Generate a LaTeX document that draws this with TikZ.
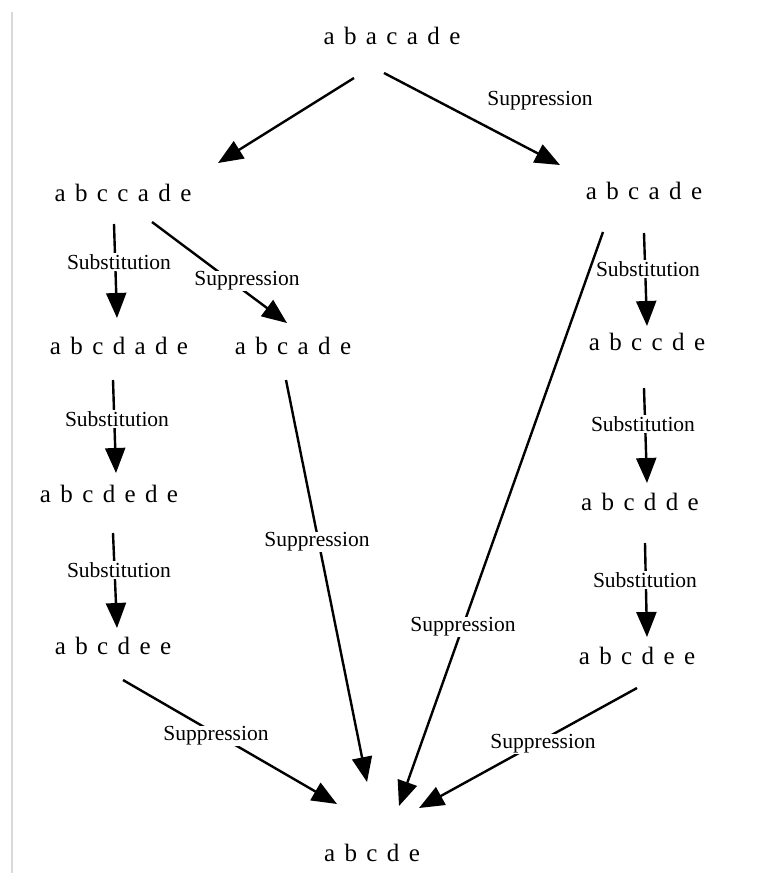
\documentclass[tikz,border=0pt]{standalone}
\usepackage{fontspec}
\setmainfont{Liberation Serif}
\newfontfamily\wordfont{Liberation Serif}[WordSpace=1.5]
\usetikzlibrary{arrows.meta}

\begin{document}
\begin{tikzpicture}[
    x=1pt, y=-1pt,
    word/.style={inner sep=0pt, text height=17pt, text depth=0pt, font=\wordfont\fontsize{25}{28}\selectfont},
    op/.style={fill=white, inner sep=1pt, font=\fontsize{21.5}{24}\selectfont},
    arrow/.style={-{Triangle[length=25pt,width=20pt]}, line width=2.4pt}
]
\useasboundingbox (0,0) rectangle (773,873);
\draw[black!15, line width=1.5pt] (12,12) -- (12,873);

% Words
\node[word] (top) at (392,36) {a b a c a d e};
\node[word] (L1) at (123,193) {a b c c a d e};
\node[word] (R1) at (644,191) {a b c a d e};
\node[word] (L2) at (119,346) {a b c d a d e};
\node[word] (M2) at (293,346) {a b c a d e};
\node[word] (R2) at (647,342) {a b c c d e};
\node[word] (L3) at (109,494) {a b c d e d e};
\node[word] (R3) at (640,502) {a b c d d e};
\node[word] (L4) at (113,646) {a b c d e e};
\node[word] (R4) at (637,656) {a b c d e e};
\node[word] (end) at (372,853) {a b c d e};

% Edges
\draw[arrow] ([shift={(-38,42)}]top.center) -- ([shift={(95,-30)}]L1.center);
\draw[arrow] ([shift={(-8,37)}]top.center) -- ([shift={(-84,-26)}]R1.center);
\draw[arrow] ([shift={(-9,31)}]L1.center) -- ([shift={(-2,-28)}]L2.center);
\draw[arrow] ([shift={(29,29)}]L1.center) -- ([shift={(-6,-23)}]M2.center);
\draw[arrow] ([shift={(0,42)}]R1.center) -- ([shift={(0,-16)}]R2.center);
\draw[arrow] ([shift={(-41,41)}]R1.center) -- ([shift={(27,-47)}]end.center);
\draw[arrow] ([shift={(-6,34)}]L2.center) -- ([shift={(7,-21)}]L3.center);
\draw[arrow] ([shift={(-7,34)}]M2.center) -- ([shift={(-5,-71)}]end.center);
\draw[arrow] ([shift={(4,39)}]L3.center) -- ([shift={(4,-18)}]L4.center);
\draw[arrow] ([shift={(-3,46)}]R2.center) -- ([shift={(7,-19)}]R3.center);
\draw[arrow] ([shift={(5,41)}]R3.center) -- ([shift={(10,-19)}]R4.center);
\draw[arrow] ([shift={(10,34)}]L4.center) -- ([shift={(-35,-49)}]end.center);
\draw[arrow] ([shift={(0,32)}]R4.center) -- ([shift={(47,-45)}]end.center);

% Labels
\node[op] (supTR) at (540,101) {Suppression};
\node[op] (subL1) at (119,262) {Substitution};
\node[op] (supLM) at (247,281) {Suppression};
\node[op] (subR1) at (648,269) {Substitution};
\node[op] (subL2) at (117,419) {Substitution};
\node[op] (subR2) at (643,424) {Substitution};
\node[op] (supM) at (317,542) {Suppression};
\node[op] (subL3) at (119,570) {Substitution};
\node[op] (subR3) at (645,580) {Substitution};
\node[op] (supR) at (463,627) {Suppression};
\node[op] (supL4) at (216,736) {Suppression};
\node[op] (supR4) at (543,744) {Suppression};

\end{tikzpicture}
\end{document}
